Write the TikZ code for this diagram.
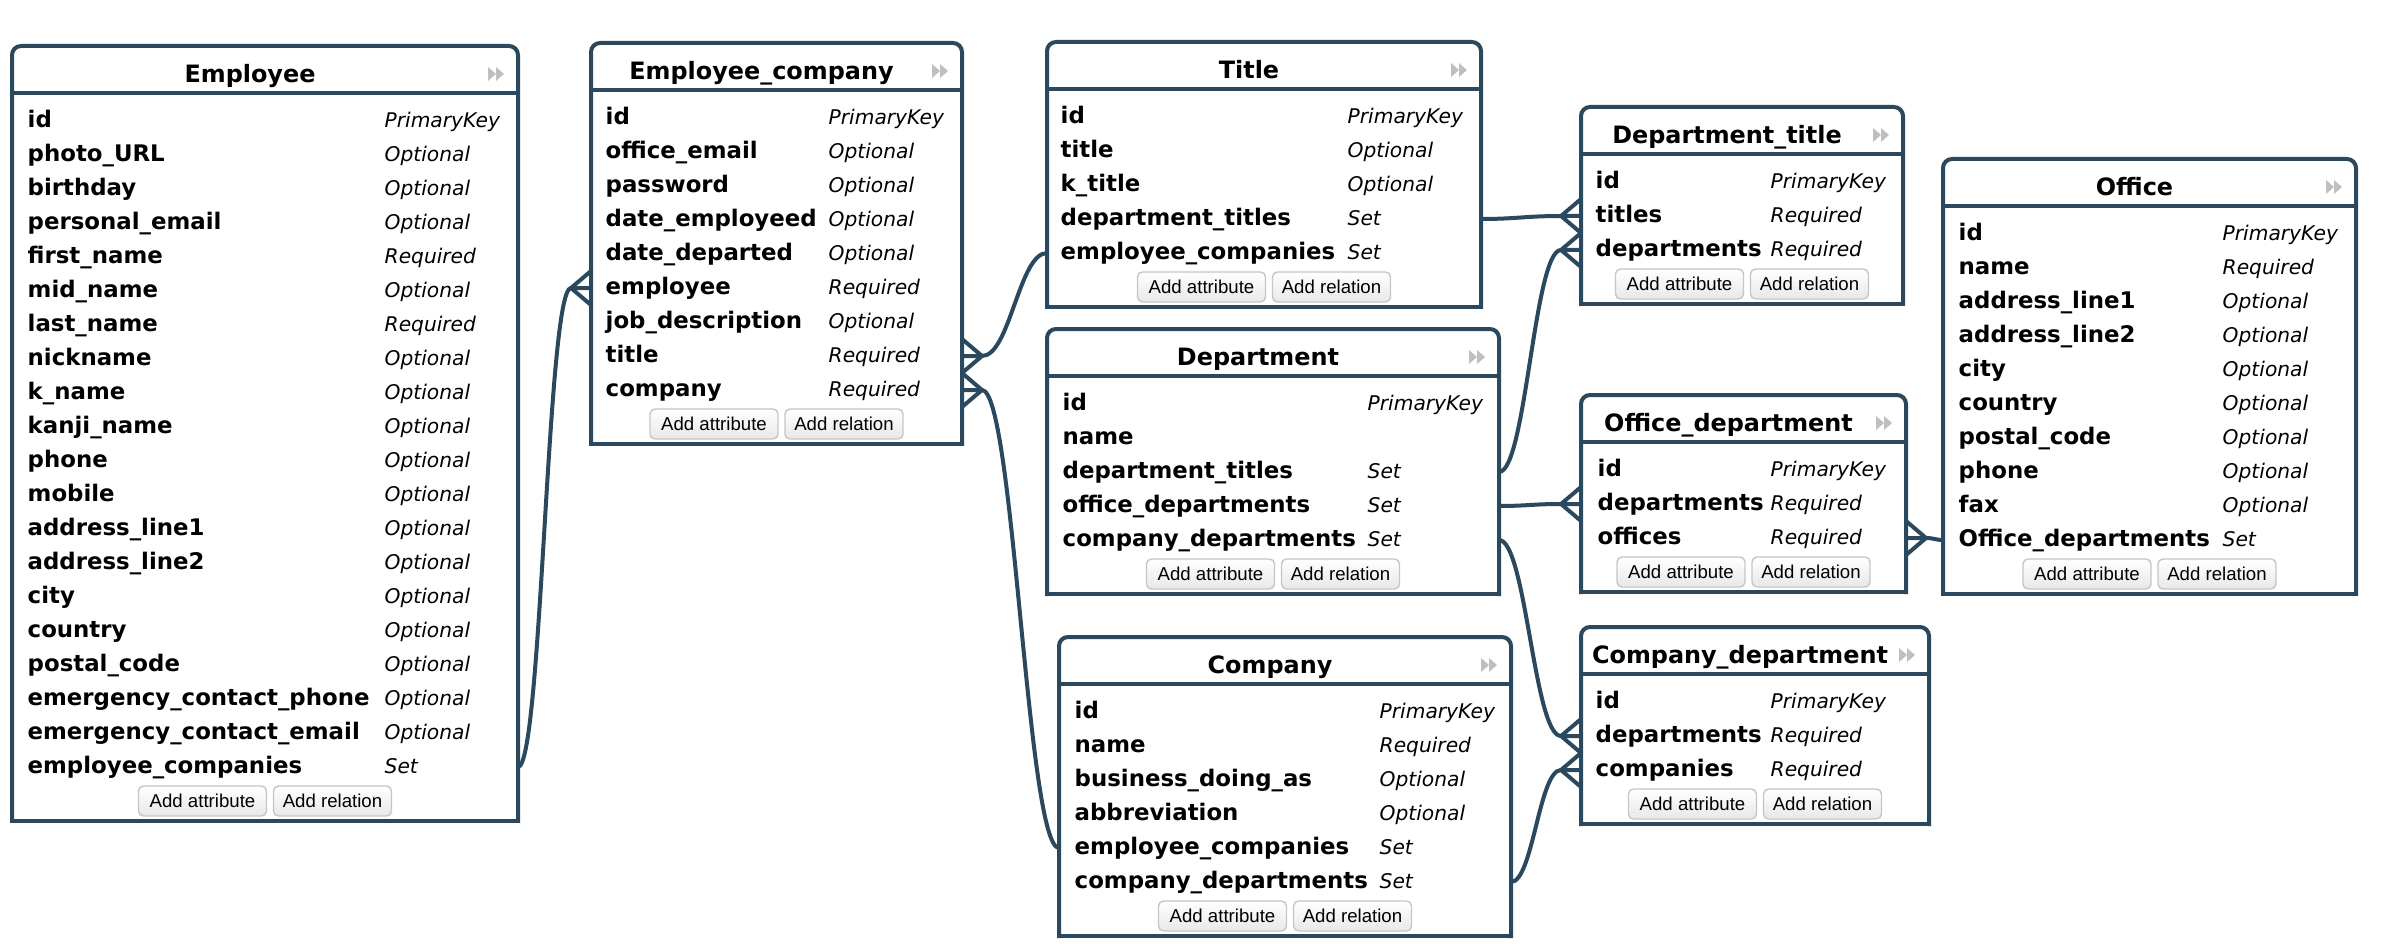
\documentclass[tikz,border=0pt]{standalone}
\usepackage{fontspec}
\setmainfont{DejaVu Sans}
\newfontfamily\btnfont{Liberation Sans}
\usetikzlibrary{calc}
\definecolor{erblue}{RGB}{42,72,94}

\begin{document}
\begin{tikzpicture}[x=0.1mm,y=-0.1mm,
	tbl/.style={inner sep=0pt,outer sep=0pt,anchor=north west},
	tblline/.style={draw=erblue,line width=0.4mm,line cap=rect},
	conn/.style={draw=erblue,line width=0.4mm},
	head/.style={inner sep=0pt,text height=1.8mm,text depth=0.5mm,font=\fontsize{6.8}{8}\selectfont\bfseries},
	attr/.style={anchor=west,inner sep=0pt,text height=1.7mm,text depth=0.45mm,font=\fontsize{6.5}{8}\selectfont\bfseries},
	kind/.style={anchor=west,inner sep=0pt,text height=1.7mm,text depth=0.45mm,font=\fontsize{5.75}{7}\selectfont\itshape},
	btn/.style={draw=gray!45,rounded corners=0.5mm,top color=white,bottom color=gray!18,minimum height=3mm,inner sep=0pt,font=\btnfont\fontsize{5.3}{6}\selectfont},
	icon/.style={fill=gray!50}]
		\useasboundingbox (0,0) rectangle (2382,952);
		\fill[white] (0,0) rectangle (2382,952);

		\node[tbl,minimum width=50.6mm,minimum height=77.5mm] (emp) at (12,46) {};
		\draw[tblline,rounded corners=0.9mm] (emp.south west) |- (emp.north east) -- (emp.south east);
		\draw[tblline] (emp.south west) -- (emp.south east);
		\draw[tblline] ($(emp.north west)+(0,47)$) -- ($(emp.north east)+(0,47)$);
		\node[head] (emp-h) at ($(emp.north)+(-15,30)$) {Employee};
		\fill[icon] ($(emp.north east)+(-30,21)$) -- ++(8,7) -- ++(-8,7) -- cycle;
		\fill[icon] ($(emp.north east)+(-22,21)$) -- ++(8,7) -- ++(-8,7) -- cycle;
		\node[attr] (emp-1) at (27,121) {id};
		\node[kind] (emp-1k) at (384,121) {PrimaryKey};
		\node[attr] (emp-2) at (27,155) {photo\_URL};
		\node[kind] (emp-2k) at (384,155) {Optional};
		\node[attr] (emp-3) at (27,189) {birthday};
		\node[kind] (emp-3k) at (384,189) {Optional};
		\node[attr] (emp-4) at (27,223) {personal\_email};
		\node[kind] (emp-4k) at (384,223) {Optional};
		\node[attr] (emp-5) at (27,257) {first\_name};
		\node[kind] (emp-5k) at (384,257) {Required};
		\node[attr] (emp-6) at (27,291) {mid\_name};
		\node[kind] (emp-6k) at (384,291) {Optional};
		\node[attr] (emp-7) at (27,325) {last\_name};
		\node[kind] (emp-7k) at (384,325) {Required};
		\node[attr] (emp-8) at (27,359) {nickname};
		\node[kind] (emp-8k) at (384,359) {Optional};
		\node[attr] (emp-9) at (27,393) {k\_name};
		\node[kind] (emp-9k) at (384,393) {Optional};
		\node[attr] (emp-10) at (27,427) {kanji\_name};
		\node[kind] (emp-10k) at (384,427) {Optional};
		\node[attr] (emp-11) at (27,461) {phone};
		\node[kind] (emp-11k) at (384,461) {Optional};
		\node[attr] (emp-12) at (27,495) {mobile};
		\node[kind] (emp-12k) at (384,495) {Optional};
		\node[attr] (emp-13) at (27,529) {address\_line1};
		\node[kind] (emp-13k) at (384,529) {Optional};
		\node[attr] (emp-14) at (27,563) {address\_line2};
		\node[kind] (emp-14k) at (384,563) {Optional};
		\node[attr] (emp-15) at (27,597) {city};
		\node[kind] (emp-15k) at (384,597) {Optional};
		\node[attr] (emp-16) at (27,631) {country};
		\node[kind] (emp-16k) at (384,631) {Optional};
		\node[attr] (emp-17) at (27,665) {postal\_code};
		\node[kind] (emp-17k) at (384,665) {Optional};
		\node[attr] (emp-18) at (27,699) {emergency\_contact\_phone};
		\node[kind] (emp-18k) at (384,699) {Optional};
		\node[attr] (emp-19) at (27,733) {emergency\_contact\_email};
		\node[kind] (emp-19k) at (384,733) {Optional};
		\node[attr] (emp-20) at (27,767) {employee\_companies};
		\node[kind] (emp-20k) at (384,767) {Set};
		\node[btn,minimum width=12.8mm] (emp-b1) at ($(emp.south)+(-62.5,-20)$) {Add attribute};
		\node[btn,minimum width=11.8mm] (emp-b2) at ($(emp.south)+(67.5,-20)$) {Add relation};

		\node[tbl,minimum width=37.1mm,minimum height=40.1mm] (ec) at (591,43) {};
		\draw[tblline,rounded corners=0.9mm] (ec.south west) |- (ec.north east) -- (ec.south east);
		\draw[tblline] (ec.south west) -- (ec.south east);
		\draw[tblline] ($(ec.north west)+(0,47)$) -- ($(ec.north east)+(0,47)$);
		\node[head] (ec-h) at ($(ec.north)+(-15,30)$) {Employee\_company};
		\fill[icon] ($(ec.north east)+(-30,21)$) -- ++(8,7) -- ++(-8,7) -- cycle;
		\fill[icon] ($(ec.north east)+(-22,21)$) -- ++(8,7) -- ++(-8,7) -- cycle;
		\node[attr] (ec-1) at (605,118) {id};
		\node[kind] (ec-1k) at (828,118) {PrimaryKey};
		\node[attr] (ec-2) at (605,152) {office\_email};
		\node[kind] (ec-2k) at (828,152) {Optional};
		\node[attr] (ec-3) at (605,186) {password};
		\node[kind] (ec-3k) at (828,186) {Optional};
		\node[attr] (ec-4) at (605,220) {date\_employeed};
		\node[kind] (ec-4k) at (828,220) {Optional};
		\node[attr] (ec-5) at (605,254) {date\_departed};
		\node[kind] (ec-5k) at (828,254) {Optional};
		\node[attr] (ec-6) at (605,288) {employee};
		\node[kind] (ec-6k) at (828,288) {Required};
		\node[attr] (ec-7) at (605,322) {job\_description};
		\node[kind] (ec-7k) at (828,322) {Optional};
		\node[attr] (ec-8) at (605,356) {title};
		\node[kind] (ec-8k) at (828,356) {Required};
		\node[attr] (ec-9) at (605,390) {company};
		\node[kind] (ec-9k) at (828,390) {Required};
		\node[btn,minimum width=12.8mm] (ec-b1) at ($(ec.south)+(-62.5,-20)$) {Add attribute};
		\node[btn,minimum width=11.8mm] (ec-b2) at ($(ec.south)+(67.5,-20)$) {Add relation};

		\node[tbl,minimum width=43.4mm,minimum height=26.5mm] (ti) at (1047,42) {};
		\draw[tblline,rounded corners=0.9mm] (ti.south west) |- (ti.north east) -- (ti.south east);
		\draw[tblline] (ti.south west) -- (ti.south east);
		\draw[tblline] ($(ti.north west)+(0,47)$) -- ($(ti.north east)+(0,47)$);
		\node[head] (ti-h) at ($(ti.north)+(-15,30)$) {Title};
		\fill[icon] ($(ti.north east)+(-30,21)$) -- ++(8,7) -- ++(-8,7) -- cycle;
		\fill[icon] ($(ti.north east)+(-22,21)$) -- ++(8,7) -- ++(-8,7) -- cycle;
		\node[attr] (ti-1) at (1060,117) {id};
		\node[kind] (ti-1k) at (1347,117) {PrimaryKey};
		\node[attr] (ti-2) at (1060,151) {title};
		\node[kind] (ti-2k) at (1347,151) {Optional};
		\node[attr] (ti-3) at (1060,185) {k\_title};
		\node[kind] (ti-3k) at (1347,185) {Optional};
		\node[attr] (ti-4) at (1060,219) {department\_titles};
		\node[kind] (ti-4k) at (1347,219) {Set};
		\node[attr] (ti-5) at (1060,253) {employee\_companies};
		\node[kind] (ti-5k) at (1347,253) {Set};
		\node[btn,minimum width=12.8mm] (ti-b1) at ($(ti.south)+(-62.5,-20)$) {Add attribute};
		\node[btn,minimum width=11.8mm] (ti-b2) at ($(ti.south)+(67.5,-20)$) {Add relation};

		\node[tbl,minimum width=32.2mm,minimum height=19.7mm] (dt) at (1581,107) {};
		\draw[tblline,rounded corners=0.9mm] (dt.south west) |- (dt.north east) -- (dt.south east);
		\draw[tblline] (dt.south west) -- (dt.south east);
		\draw[tblline] ($(dt.north west)+(0,47)$) -- ($(dt.north east)+(0,47)$);
		\node[head] (dt-h) at ($(dt.north)+(-15,30)$) {Department\_title};
		\fill[icon] ($(dt.north east)+(-30,21)$) -- ++(8,7) -- ++(-8,7) -- cycle;
		\fill[icon] ($(dt.north east)+(-22,21)$) -- ++(8,7) -- ++(-8,7) -- cycle;
		\node[attr] (dt-1) at (1595,182) {id};
		\node[kind] (dt-1k) at (1770,182) {PrimaryKey};
		\node[attr] (dt-2) at (1595,216) {titles};
		\node[kind] (dt-2k) at (1770,216) {Required};
		\node[attr] (dt-3) at (1595,250) {departments};
		\node[kind] (dt-3k) at (1770,250) {Required};
		\node[btn,minimum width=12.8mm] (dt-b1) at ($(dt.south)+(-62.5,-20)$) {Add attribute};
		\node[btn,minimum width=11.8mm] (dt-b2) at ($(dt.south)+(67.5,-20)$) {Add relation};

		\node[tbl,minimum width=41.3mm,minimum height=43.5mm] (off) at (1943,159) {};
		\draw[tblline,rounded corners=0.9mm] (off.south west) |- (off.north east) -- (off.south east);
		\draw[tblline] (off.south west) -- (off.south east);
		\draw[tblline] ($(off.north west)+(0,47)$) -- ($(off.north east)+(0,47)$);
		\node[head] (off-h) at ($(off.north)+(-15,30)$) {Office};
		\fill[icon] ($(off.north east)+(-30,21)$) -- ++(8,7) -- ++(-8,7) -- cycle;
		\fill[icon] ($(off.north east)+(-22,21)$) -- ++(8,7) -- ++(-8,7) -- cycle;
		\node[attr] (off-1) at (1958,234) {id};
		\node[kind] (off-1k) at (2222,234) {PrimaryKey};
		\node[attr] (off-2) at (1958,268) {name};
		\node[kind] (off-2k) at (2222,268) {Required};
		\node[attr] (off-3) at (1958,302) {address\_line1};
		\node[kind] (off-3k) at (2222,302) {Optional};
		\node[attr] (off-4) at (1958,336) {address\_line2};
		\node[kind] (off-4k) at (2222,336) {Optional};
		\node[attr] (off-5) at (1958,370) {city};
		\node[kind] (off-5k) at (2222,370) {Optional};
		\node[attr] (off-6) at (1958,404) {country};
		\node[kind] (off-6k) at (2222,404) {Optional};
		\node[attr] (off-7) at (1958,438) {postal\_code};
		\node[kind] (off-7k) at (2222,438) {Optional};
		\node[attr] (off-8) at (1958,472) {phone};
		\node[kind] (off-8k) at (2222,472) {Optional};
		\node[attr] (off-9) at (1958,506) {fax};
		\node[kind] (off-9k) at (2222,506) {Optional};
		\node[attr] (off-10) at (1958,540) {Office\_departments};
		\node[kind] (off-10k) at (2222,540) {Set};
		\node[btn,minimum width=12.8mm] (off-b1) at ($(off.south)+(-62.5,-20)$) {Add attribute};
		\node[btn,minimum width=11.8mm] (off-b2) at ($(off.south)+(67.5,-20)$) {Add relation};

		\node[tbl,minimum width=45.2mm,minimum height=26.5mm] (dep) at (1047,329) {};
		\draw[tblline,rounded corners=0.9mm] (dep.south west) |- (dep.north east) -- (dep.south east);
		\draw[tblline] (dep.south west) -- (dep.south east);
		\draw[tblline] ($(dep.north west)+(0,47)$) -- ($(dep.north east)+(0,47)$);
		\node[head] (dep-h) at ($(dep.north)+(-15,30)$) {Department};
		\fill[icon] ($(dep.north east)+(-30,21)$) -- ++(8,7) -- ++(-8,7) -- cycle;
		\fill[icon] ($(dep.north east)+(-22,21)$) -- ++(8,7) -- ++(-8,7) -- cycle;
		\node[attr] (dep-1) at (1062,404) {id};
		\node[kind] (dep-1k) at (1367,404) {PrimaryKey};
		\node[attr] (dep-2) at (1062,438) {name};
		\node[attr] (dep-3) at (1062,472) {department\_titles};
		\node[kind] (dep-3k) at (1367,472) {Set};
		\node[attr] (dep-4) at (1062,506) {office\_departments};
		\node[kind] (dep-4k) at (1367,506) {Set};
		\node[attr] (dep-5) at (1062,540) {company\_departments};
		\node[kind] (dep-5k) at (1367,540) {Set};
		\node[btn,minimum width=12.8mm] (dep-b1) at ($(dep.south)+(-62.5,-20)$) {Add attribute};
		\node[btn,minimum width=11.8mm] (dep-b2) at ($(dep.south)+(67.5,-20)$) {Add relation};

		\node[tbl,minimum width=32.5mm,minimum height=19.7mm] (od) at (1581,395) {};
		\draw[tblline,rounded corners=0.9mm] (od.south west) |- (od.north east) -- (od.south east);
		\draw[tblline] (od.south west) -- (od.south east);
		\draw[tblline] ($(od.north west)+(0,47)$) -- ($(od.north east)+(0,47)$);
		\node[head] (od-h) at ($(od.north)+(-15,30)$) {Office\_department};
		\fill[icon] ($(od.north east)+(-30,21)$) -- ++(8,7) -- ++(-8,7) -- cycle;
		\fill[icon] ($(od.north east)+(-22,21)$) -- ++(8,7) -- ++(-8,7) -- cycle;
		\node[attr] (od-1) at (1597,470) {id};
		\node[kind] (od-1k) at (1770,470) {PrimaryKey};
		\node[attr] (od-2) at (1597,504) {departments};
		\node[kind] (od-2k) at (1770,504) {Required};
		\node[attr] (od-3) at (1597,538) {offices};
		\node[kind] (od-3k) at (1770,538) {Required};
		\node[btn,minimum width=12.8mm] (od-b1) at ($(od.south)+(-62.5,-20)$) {Add attribute};
		\node[btn,minimum width=11.8mm] (od-b2) at ($(od.south)+(67.5,-20)$) {Add relation};

		\node[tbl,minimum width=45.2mm,minimum height=29.9mm] (com) at (1059,637) {};
		\draw[tblline,rounded corners=0.9mm] (com.south west) |- (com.north east) -- (com.south east);
		\draw[tblline] (com.south west) -- (com.south east);
		\draw[tblline] ($(com.north west)+(0,47)$) -- ($(com.north east)+(0,47)$);
		\node[head] (com-h) at ($(com.north)+(-15,30)$) {Company};
		\fill[icon] ($(com.north east)+(-30,21)$) -- ++(8,7) -- ++(-8,7) -- cycle;
		\fill[icon] ($(com.north east)+(-22,21)$) -- ++(8,7) -- ++(-8,7) -- cycle;
		\node[attr] (com-1) at (1074,712) {id};
		\node[kind] (com-1k) at (1379,712) {PrimaryKey};
		\node[attr] (com-2) at (1074,746) {name};
		\node[kind] (com-2k) at (1379,746) {Required};
		\node[attr] (com-3) at (1074,780) {business\_doing\_as};
		\node[kind] (com-3k) at (1379,780) {Optional};
		\node[attr] (com-4) at (1074,814) {abbreviation};
		\node[kind] (com-4k) at (1379,814) {Optional};
		\node[attr] (com-5) at (1074,848) {employee\_companies};
		\node[kind] (com-5k) at (1379,848) {Set};
		\node[attr] (com-6) at (1074,882) {company\_departments};
		\node[kind] (com-6k) at (1379,882) {Set};
		\node[btn,minimum width=12.8mm] (com-b1) at ($(com.south)+(-62.5,-20)$) {Add attribute};
		\node[btn,minimum width=11.8mm] (com-b2) at ($(com.south)+(67.5,-20)$) {Add relation};

		\node[tbl,minimum width=34.8mm,minimum height=19.7mm] (cd) at (1581,627) {};
		\draw[tblline,rounded corners=0.9mm] (cd.south west) |- (cd.north east) -- (cd.south east);
		\draw[tblline] (cd.south west) -- (cd.south east);
		\draw[tblline] ($(cd.north west)+(0,47)$) -- ($(cd.north east)+(0,47)$);
		\node[head] (cd-h) at ($(cd.north)+(-15,30)$) {Company\_department};
		\fill[icon] ($(cd.north east)+(-30,21)$) -- ++(8,7) -- ++(-8,7) -- cycle;
		\fill[icon] ($(cd.north east)+(-22,21)$) -- ++(8,7) -- ++(-8,7) -- cycle;
		\node[attr] (cd-1) at (1595,702) {id};
		\node[kind] (cd-1k) at (1770,702) {PrimaryKey};
		\node[attr] (cd-2) at (1595,736) {departments};
		\node[kind] (cd-2k) at (1770,736) {Required};
		\node[attr] (cd-3) at (1595,770) {companies};
		\node[kind] (cd-3k) at (1770,770) {Required};
		\node[btn,minimum width=12.8mm] (cd-b1) at ($(cd.south)+(-62.5,-20)$) {Add attribute};
		\node[btn,minimum width=11.8mm] (cd-b2) at ($(cd.south)+(67.5,-20)$) {Add relation};

		\coordinate (f1) at ($(ec.west |- ec-6)+(-20,0)$);
		\draw[conn] (emp.east |- emp-20) .. controls +(24,0) and +(-24,0) .. (f1) -- (ec.west |- ec-6);
		\draw[conn] ($(ec.west |- ec-6)+(0,-17)$) -- (f1) -- ($(ec.west |- ec-6)+(0,17)$);
		\coordinate (f2) at ($(ec.east |- ec-8)+(20,0)$);
		\draw[conn] (ec.east |- ec-8) -- (f2) .. controls +(28,0) and +(-28,0) .. (ti.west |- ti-5);
		\draw[conn] ($(ec.east |- ec-8)+(0,-17)$) -- (f2) -- ($(ec.east |- ec-8)+(0,17)$);
		\coordinate (f3) at ($(ec.east |- ec-9)+(20,0)$);
		\draw[conn] (ec.east |- ec-9) -- (f3) .. controls +(32,0) and +(-32,0) .. (com.west |- com-5);
		\draw[conn] ($(ec.east |- ec-9)+(0,-17)$) -- (f3) -- ($(ec.east |- ec-9)+(0,17)$);
		\coordinate (f4) at ($(dt.west |- dt-2)+(-20,0)$);
		\draw[conn] (ti.east |- ti-4) .. controls +(35,0) and +(-35,0) .. (f4) -- (dt.west |- dt-2);
		\draw[conn] ($(dt.west |- dt-2)+(0,-17)$) -- (f4) -- ($(dt.west |- dt-2)+(0,17)$);
		\coordinate (f5) at ($(dt.west |- dt-3)+(-20,0)$);
		\draw[conn] (dep.east |- dep-3) .. controls +(27,0) and +(-27,0) .. (f5) -- (dt.west |- dt-3);
		\draw[conn] ($(dt.west |- dt-3)+(0,-17)$) -- (f5) -- ($(dt.west |- dt-3)+(0,17)$);
		\coordinate (f6) at ($(od.west |- od-2)+(-20,0)$);
		\draw[conn] (dep.east |- dep-4) .. controls +(28,0) and +(-28,0) .. (f6) -- (od.west |- od-2);
		\draw[conn] ($(od.west |- od-2)+(0,-17)$) -- (f6) -- ($(od.west |- od-2)+(0,17)$);
		\coordinate (f7) at ($(od.east |- od-3)+(20,0)$);
		\draw[conn] (od.east |- od-3) -- (f7) .. controls +(8,0) and +(-8,0) .. (off.west |- off-10);
		\draw[conn] ($(od.east |- od-3)+(0,-17)$) -- (f7) -- ($(od.east |- od-3)+(0,17)$);
		\coordinate (f8) at ($(cd.west |- cd-2)+(-20,0)$);
		\draw[conn] (dep.east |- dep-5) .. controls +(27,0) and +(-27,0) .. (f8) -- (cd.west |- cd-2);
		\draw[conn] ($(cd.west |- cd-2)+(0,-17)$) -- (f8) -- ($(cd.west |- cd-2)+(0,17)$);
		\coordinate (f9) at ($(cd.west |- cd-3)+(-20,0)$);
		\draw[conn] (com.east |- com-6) .. controls +(22,0) and +(-22,0) .. (f9) -- (cd.west |- cd-3);
		\draw[conn] ($(cd.west |- cd-3)+(0,-17)$) -- (f9) -- ($(cd.west |- cd-3)+(0,17)$);
	\end{tikzpicture}
\end{document}
